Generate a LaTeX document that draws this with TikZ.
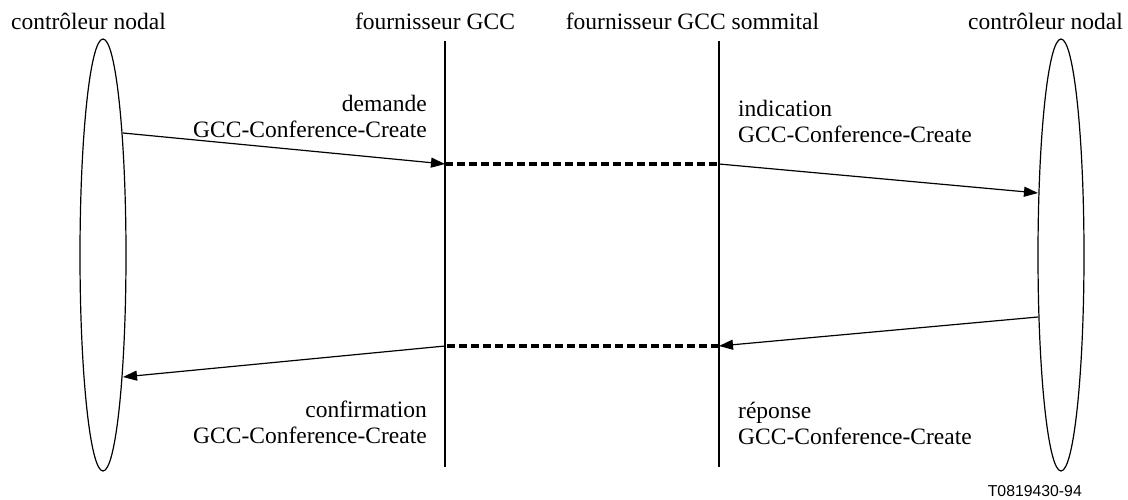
\documentclass[tikz,border=0pt]{standalone}
\usepackage{fontspec}
\setmainfont{Liberation Serif}
\newfontfamily\labelsans{Liberation Sans}
\usetikzlibrary{arrows.meta,shapes.geometric}
\begin{document}
\begin{tikzpicture}[x=1pt,y=-1pt,
  txt/.style={inner sep=0pt,font=\fontsize{23.5}{26}\selectfont},
  party/.style={draw,ellipse,line width=1.2pt,minimum width=46pt,minimum height=432pt,inner sep=0pt},
  lifeline/.style={line width=2pt},
  msg/.style={line width=1.2pt,-{Triangle[length=14pt,width=10pt]}},
  relay/.style={line width=3.3pt,dash pattern=on 8pt off 4pt}]
\useasboundingbox (0,0) rectangle (1128,499);

% participants
\node[party] (L) at (103,255) {};
\node[party] (R) at (1061,255) {};
\coordinate (P1top) at (445,41);
\coordinate (P1bot) at (445,467);
\coordinate (P2top) at (719,41);
\coordinate (P2bot) at (719,467);
\draw[lifeline] (P1top) -- (P1bot);
\draw[lifeline] (P2top) -- (P2bot);

% headings
\node[txt,anchor=base] (hL) at (88.5,29) {contrôleur nodal};
\node[txt,anchor=base] (h1) at (435,29) {fournisseur GCC};
\node[txt,anchor=base] (h2) at (692.5,29) {fournisseur GCC sommital};
\node[txt,anchor=base] (hR) at (1045.5,29) {contrôleur nodal};

% message end points
\coordinate (a1) at (123,133);
\coordinate (p1a) at (445,164);
\coordinate (p2a) at (719,164);
\coordinate (a2) at (1038,193);
\coordinate (a3) at (1038,317);
\coordinate (p2b) at (719,346);
\coordinate (p1b) at (445,346);
\coordinate (a4) at (123,377);

% create request / indication
\draw[msg] (a1) -- (p1a);
\draw[relay] (p1a) -- (p2a);
\draw[msg] (p2a) -- (a2);
% response / confirm
\draw[msg] (a3) -- (p2b);
\draw[relay] (p2b) -- (p1b);
\draw[msg] (p1b) -- (a4);

% primitive labels
\node[txt,anchor=base east] (l1a) at (427,111) {demande};
\node[txt,anchor=base east] (l1b) at (427,137) {GCC-Conference-Create};
\node[txt,anchor=base west] (l2a) at (738,116) {indication};
\node[txt,anchor=base west] (l2b) at (738,142) {GCC-Conference-Create};
\node[txt,anchor=base east] (l4a) at (427,417) {confirmation};
\node[txt,anchor=base east] (l4b) at (427,443) {GCC-Conference-Create};
\node[txt,anchor=base west] (l3a) at (738,418) {réponse};
\node[txt,anchor=base west] (l3b) at (738,444) {GCC-Conference-Create};

\node[inner sep=0pt,anchor=base east,font=\labelsans\fontsize{15.8}{18}\selectfont] (ref) at (1082,496) {T0819430-94};
\end{tikzpicture}
\end{document}
